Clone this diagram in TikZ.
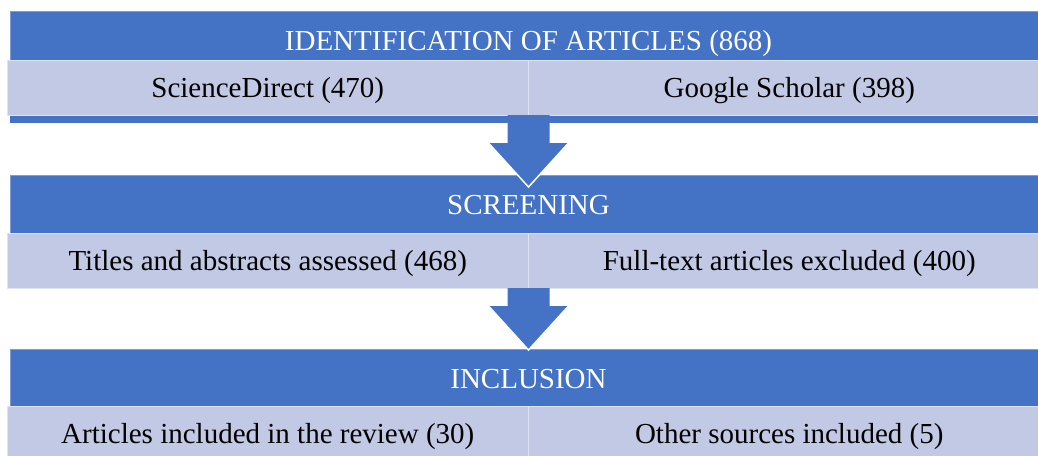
\documentclass[tikz,border=0pt]{standalone}
\usepackage{fontspec}
\setmainfont{Liberation Serif}
\usetikzlibrary{calc}
\definecolor{bandblue}{RGB}{68,114,196}
\definecolor{celllight}{RGB}{193,201,229}

% block arrow from a start point (shaft top) down to a tip point
\newcommand{\flowarrow}[2]{%
  \fill[flow] ($(#1)+(-21,0)$) -- ($(#2)+(-21,-44)$) -- ($(#2)+(-40,-44)$) -- (#2)
    -- ($(#2)+(40,-44)$) -- ($(#2)+(21,-44)$) -- ($(#1)+(21,0)$) -- cycle;
  \draw[flowedge] ($(#2)+(-40,-44)$) -- (#2) -- ($(#2)+(40,-44)$);}

\begin{document}
\begin{tikzpicture}[x=1pt,y=-1pt,
  every node/.style={inner sep=0pt, outer sep=0pt,
    font=\fontsize{29}{34}\selectfont, text height=20pt, text depth=0pt},
  band/.style={fill=bandblue, draw=bandblue!70!white, line width=0.5pt, text=white,
    minimum width=1037pt, minimum height=58pt, anchor=north west},
  cell/.style={fill=celllight, draw=celllight!50!white, line width=1pt, text=black,
    minimum width=521.5pt, minimum height=55pt, anchor=north west},
  flow/.style={fill=bandblue},
  flowedge/.style={draw=white, line width=1.5pt, line join=miter}]
\useasboundingbox (0,0) rectangle (1038,455);

% identification
\fill[bandblue] (10,11) rectangle (1047,123);
\node[band] (h1) at (10,11) {IDENTIFICATION OF ARTICLES (868)};
\node[cell] (c11) at (7,60) {ScienceDirect (470)};
\node[cell] (c12) at (c11.north east) {Google Scholar (398)};

% screening
\node[band] (h2) at (10,175) {SCREENING};
\node[cell] (c21) at (7,233) {Titles and abstracts assessed (468)};
\node[cell] (c22) at (c21.north east) {Full-text articles excluded (400)};

% inclusion
\node[band] (h3) at (10,349) {INCLUSION};
\node[cell] (c31) at (7,406) {Articles included in the review (30)};
\node[cell] (c32) at (c31.north east) {Other sources included (5)};

% arrows between stages
\coordinate (a1s) at (c11.south east);
\coordinate (a1t) at ($(h2.north)+(0,12)$);
\coordinate (a2s) at (c21.south east);
\coordinate (a2t) at ($(h3.north)+(0,1)$);
\flowarrow{a1s}{a1t}
\flowarrow{a2s}{a2t}
\end{tikzpicture}
\end{document}
